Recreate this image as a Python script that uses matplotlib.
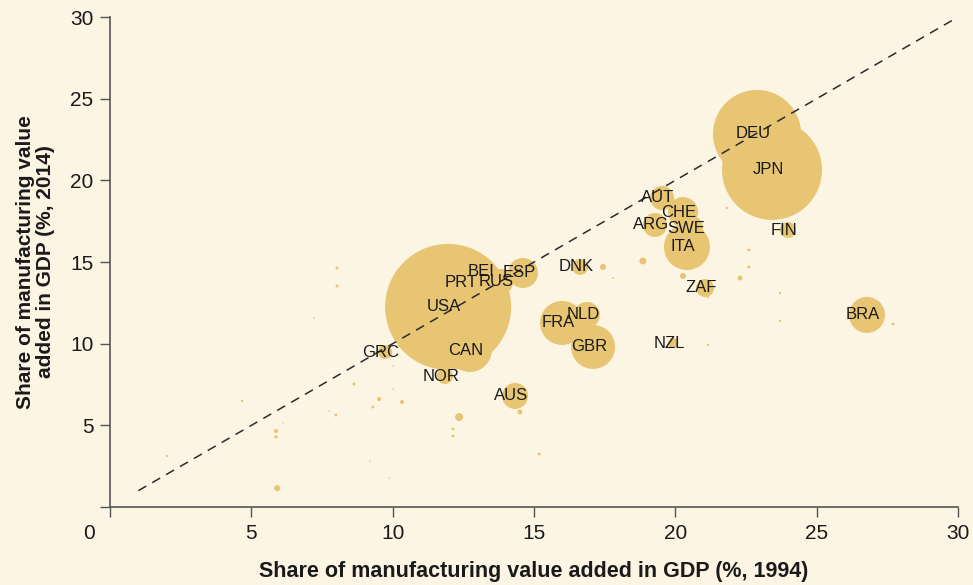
import numpy as np
import matplotlib.pyplot as plt

plt.rcParams['font.family'] = ['Liberation Sans', 'DejaVu Sans']

# labelled countries: share of manufacturing VA in GDP 1994 / 2014, bubble weight
countries = ['USA', 'CAN', 'DEU', 'JPN', 'BRA', 'FIN', 'ZAF', 'NZL', 'AUT', 'CHE',
             'ARG', 'SWE', 'ITA', 'DNK', 'FRA', 'NLD', 'GBR', 'ESP', 'RUS', 'BEI',
             'PRT', 'GRC', 'NOR', 'AUS']
share_1994 = [11.96, 12.73, 22.89, 23.42, 26.78, 23.98, 21.05, 19.92, 19.53, 20.27,
              19.28, 20.52, 20.41, 16.63, 15.99, 16.87, 17.09, 14.61, 13.80, 13.26,
              12.56, 9.73, 11.85, 14.33]
share_2014 = [12.25, 9.61, 22.84, 20.64, 11.76, 16.96, 13.41, 10.04, 18.92, 18.06,
              17.27, 17.08, 15.92, 14.70, 11.27, 11.76, 9.80, 14.33, 13.78, 14.39,
              13.72, 9.49, 8.02, 6.80]
weight = [3970, 480, 1940, 2500, 324, 64, 81, 25, 144, 225,
          144, 169, 529, 64, 484, 169, 484, 225, 169, 64,
          36, 49, 64, 169]

# unlabelled small economies
other_1994 = [8.03, 8.03, 7.22, 10.01, 8.63, 9.52, 9.30, 7.99, 7.75, 4.67, 5.87, 5.87,
              6.12, 2.02, 5.91, 9.20, 9.87, 10.01, 10.33, 12.35, 12.13, 12.13, 14.50,
              15.18, 17.44, 18.85, 17.79, 20.27, 21.15, 21.83, 22.60, 22.60, 22.29,
              23.70, 23.70, 21.15, 27.70]
other_2014 = [14.64, 13.53, 11.57, 8.63, 7.53, 6.61, 6.12, 5.63, 5.88, 6.49, 4.65, 4.29,
              5.14, 3.12, 1.16, 2.82, 1.78, 7.23, 6.43, 5.51, 4.78, 4.35, 5.82,
              3.25, 14.70, 15.06, 14.02, 14.15, 12.86, 18.31, 15.74, 14.70, 14.02,
              13.10, 11.39, 9.92, 11.21]
other_weight = [2.2, 2.2, 0.6, 0.6, 2.2, 4, 2.2, 2.2, 0.6, 1.4, 4, 2.9,
                0.4, 1.4, 9, 0.6, 0.6, 0.6, 4, 16, 2.2, 2.2, 6.2,
                2.2, 9, 12, 1, 9, 1.4, 1.4, 2.2, 2.2, 6.2,
                1.4, 1.4, 1.4, 2.2]

bg = '#fdf5e4'
bubble = '#e7c573'

fig = plt.figure(figsize=(9.73, 5.85), dpi=100, facecolor=bg)
ax = fig.add_axes([0.1131, 0.1333, 0.8715, 0.8376])
ax.set_facecolor(bg)

k = (2 * 0.72) ** 2  # px radius^2 -> points^2
order = np.argsort(weight)[::-1]
ax.scatter(np.array(share_1994)[order], np.array(share_2014)[order],
           s=np.array(weight)[order] * k, color=bubble, linewidths=0, zorder=2)
ax.scatter(other_1994, other_2014, s=np.array(other_weight) * k, color=bubble,
           linewidths=0, zorder=2)

ax.plot([1, 30], [1, 30], color='#2b2b2b', lw=1.1, ls=(0, (6, 4.5)), zorder=3)

for name, x, y in zip(countries, share_1994, share_2014):
    ax.annotate(name, (x, y), xytext=(-4, 0), textcoords='offset pixels',
                ha='center', va='center', fontsize=12, color='#1a1a1a', zorder=4)

ax.set_xlim(0, 30)
ax.set_ylim(0, 30)
ax.set_xticks(range(0, 31, 5))
ax.set_yticks(range(0, 31, 5))
ax.set_xticklabels([''] + [str(v) for v in range(5, 31, 5)])
ax.set_yticklabels([''] + [str(v) for v in range(5, 31, 5)])
ax.tick_params(direction='out', length=7, width=1, color='#555555',
               labelsize=15, labelcolor='#1a1a1a', pad=5)
ax.text(-0.75, -1.6, '0', ha='center', va='center', fontsize=15,
        color='#1a1a1a', clip_on=False)
for side in ['top', 'right']:
    ax.spines[side].set_visible(False)
for side in ['left', 'bottom']:
    ax.spines[side].set_color('#555555')
    ax.spines[side].set_linewidth(1.2)

ax.set_xlabel('Share of manufacturing value added in GDP (%, 1994)',
              fontsize=15.5, fontweight='bold', color='#1a1a1a', labelpad=13)
ax.set_ylabel('Share of manufacturing value\nadded in GDP (%, 2014)',
              fontsize=15, fontweight='bold', color='#1a1a1a', labelpad=11,
              linespacing=1.05)

fig.savefig('out.png', dpi=100, facecolor=bg)
